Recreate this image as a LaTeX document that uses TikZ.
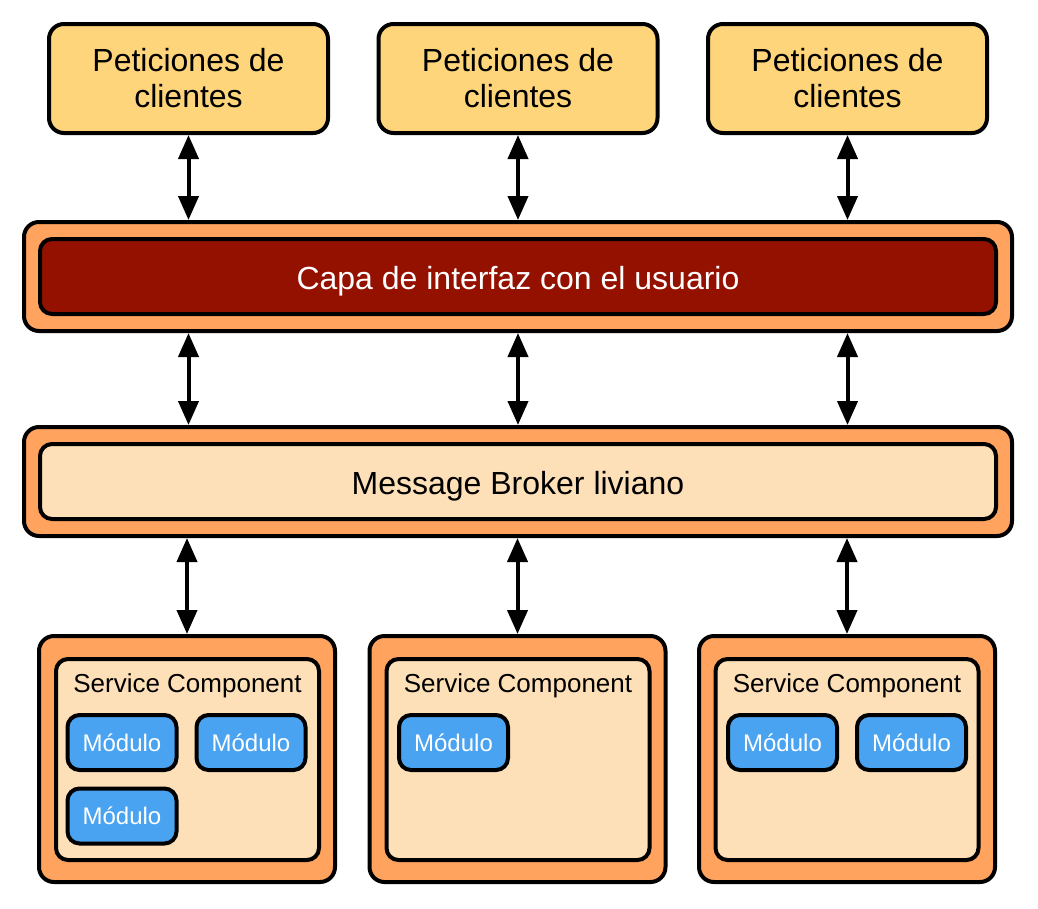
\documentclass[tikz,border=0pt]{standalone}
\usepackage{fontspec}
\setmainfont{Liberation Sans}
\usetikzlibrary{arrows.meta}
\definecolor{amarillo}{HTML}{FED57A}
\definecolor{naranja}{HTML}{FFA35E}
\definecolor{rojo}{HTML}{941100}
\definecolor{crema}{HTML}{FDE0B8}
\definecolor{azul}{HTML}{4AA3F0}
\begin{document}
\begin{tikzpicture}[x=1pt,y=-1pt]
	\tikzstyle{caja}=[draw=black,line width=4pt,rectangle,inner sep=0pt,align=center]
	\tikzstyle{cliente}=[caja,fill=amarillo,rounded corners=15pt,minimum width=279pt,minimum height=109pt,font=\fontsize{32}{36}\selectfont]
	\tikzstyle{capa}=[caja,fill=naranja,rounded corners=15pt,minimum width=988pt,minimum height=109pt]
	\tikzstyle{interior}=[caja,rounded corners=12pt,minimum width=956pt,minimum height=75pt,text height=26pt,text depth=0pt,font=\fontsize{32}{36}\selectfont]
	\tikzstyle{servicio}=[caja,fill=naranja,rounded corners=15pt,minimum width=296pt,minimum height=246pt]
	\tikzstyle{componente}=[caja,fill=crema,rounded corners=12pt,minimum width=263pt,minimum height=201pt]
	\tikzstyle{modulo}=[caja,fill=azul,text=white,rounded corners=12pt,minimum width=109pt,minimum height=55pt,font=\fontsize{24}{28}\selectfont]
	\tikzstyle{etiqueta}=[inner sep=0pt,font=\fontsize{26}{30}\selectfont]
	\tikzstyle{flecha}=[line width=4pt,{Triangle[length=24pt,width=20pt]}-{Triangle[length=24pt,width=20pt]}]
	\useasboundingbox (0,0) rectangle (1038,908);
	\draw
	node[cliente](A)at(188.5,78.5){Peticiones de\\clientes}
	node[cliente](B)at(518,78.5){Peticiones de\\clientes}
	node[cliente](C)at(847.5,78.5){Peticiones de\\clientes}
	node[capa](U)at(518,276.5){}
	node[interior,fill=rojo,text=white](UI)at(518,276.5){Capa de interfaz con el usuario}
	node[capa](M)at(518,481.5){}
	node[interior,fill=crema](MB)at(518,481.5){Message Broker liviano}
	node[servicio](S1)at(187,759){}
	node[servicio](S2)at(517.5,759){}
	node[servicio](S3)at(847,759){}
	node[componente](K1)at(187.5,759.5){}
	node[componente](K2)at(518,759.5){}
	node[componente](K3)at(847,759.5){}
	node[etiqueta](L1)at(187.5,686){Service Component}
	node[etiqueta](L2)at(518,686){Service Component}
	node[etiqueta](L3)at(847,686){Service Component}
	node[modulo](D1)at(122,742.5){Módulo}
	node[modulo](D2)at(251,742.5){Módulo}
	node[modulo](D3)at(122,816){Módulo}
	node[modulo](D4)at(453.5,742.5){Módulo}
	node[modulo](D5)at(782.5,742.5){Módulo}
	node[modulo](D6)at(911.5,742.5){Módulo};
	
	\draw[flecha](A.south)--(A.south |- U.north);
	\draw[flecha](B.south)--(B.south |- U.north);
	\draw[flecha](C.south)--(C.south |- U.north);
	\draw[flecha](A.south |- U.south)--(A.south |- M.north);
	\draw[flecha](B.south |- U.south)--(B.south |- M.north);
	\draw[flecha](C.south |- U.south)--(C.south |- M.north);
	\draw[flecha](S1.north |- M.south)--(S1.north);
	\draw[flecha](S2.north |- M.south)--(S2.north);
	\draw[flecha](S3.north |- M.south)--(S3.north);
\end{tikzpicture}
\end{document}
